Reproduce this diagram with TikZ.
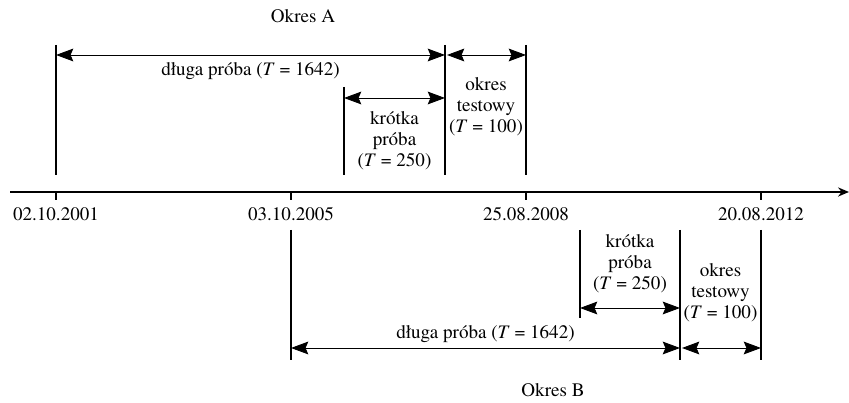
\documentclass[tikz,border=0pt]{standalone}
\usepackage{fontspec}
\setmainfont{texgyretermes}[
    Extension=.otf,
    UprightFont=*-regular,
    ItalicFont=*-italic,
    BoldFont=*-bold]
\usetikzlibrary{arrows.meta}

\begin{document}
\begin{tikzpicture}[
    x=0.55pt, y=0.55pt,
    every node/.style={font=\fontsize{10.5}{11.6}\selectfont, inner sep=0pt},
    axis/.style={line width=1pt, -{Stealth[length=6pt,width=5pt]}},
    tick/.style={line width=0.8pt},
    edge/.style={line width=0.8pt},
    span/.style={line width=0.5pt,
        {Stealth[length=9.5pt,width=7pt,inset=1.5pt]}-{Stealth[length=9.5pt,width=7pt,inset=1.5pt]}},
    lbl/.style={align=center}
]
\useasboundingbox (0,0) rectangle (849,403);

% time axis
\coordinate (axL) at (10,211);
\coordinate (axR) at (849,211);
\draw[axis] (axL) -- (axR);
\foreach \x/\d [count=\i] in {56/02.10.2001, 291/03.10.2005, 526/25.08.2008, 761/20.08.2012} {
    \coordinate (t\i) at (\x,211);
    \coordinate (tb\i) at (\x,203);
    \draw[tick] (t\i) -- (tb\i);
    \node (d\i) at (\x,189) {\d};
}

% Okres A
\node (okresA) at (303,387) {Okres A};
\coordinate (a1t) at (56,358);   \coordinate (a1b) at (56,228);
\coordinate (a2t) at (344,316);  \coordinate (a2b) at (344,228);
\coordinate (a3t) at (445,358);  \coordinate (a3b) at (445,228);
\coordinate (a4t) at (526,358);  \coordinate (a4b) at (526,228);
\draw[edge] (a1t) -- (a1b);
\draw[edge] (a2t) -- (a2b);
\draw[edge] (a3t) -- (a3b);
\draw[edge] (a4t) -- (a4b);

\coordinate (aLongL) at (56,348);   \coordinate (aLongR) at (445,348);
\coordinate (aShortL) at (344,305); \coordinate (aShortR) at (445,305);
\coordinate (aTestL) at (447,348);  \coordinate (aTestR) at (526,348);
\draw[span] (aLongL) -- (aLongR);
\draw[span] (aShortL) -- (aShortR);
\draw[span] (aTestL) -- (aTestR);

\node (aLong) at (250.5,332) {długa próba (\textit{T}~=~1642)};
\node[lbl] (aShort) at (394.5,262) {krótka\\próba\\(\textit{T}~=~250)};
\node[lbl] (aTest) at (486,296) {okres\\testowy\\(\textit{T}~=~100)};

% Okres B
\node (okresB) at (553,13) {Okres B};
\coordinate (b1t) at (291,173);  \coordinate (b1b) at (291,43);
\coordinate (b2t) at (580,173);  \coordinate (b2b) at (580,85);
\coordinate (b3t) at (680,173);  \coordinate (b3b) at (680,43);
\coordinate (b4t) at (761,173);  \coordinate (b4b) at (761,43);
\draw[edge] (b1t) -- (b1b);
\draw[edge] (b2t) -- (b2b);
\draw[edge] (b3t) -- (b3b);
\draw[edge] (b4t) -- (b4b);

\coordinate (bLongL) at (291,55);  \coordinate (bLongR) at (680,55);
\coordinate (bShortL) at (580,95); \coordinate (bShortR) at (680,95);
\coordinate (bTestL) at (682,55);  \coordinate (bTestR) at (761,55);
\draw[span] (bLongL) -- (bLongR);
\draw[span] (bShortL) -- (bShortR);
\draw[span] (bTestL) -- (bTestR);

\node (bLong) at (485.5,69) {długa próba (\textit{T}~=~1642)};
\node[lbl] (bShort) at (630,139) {krótka\\próba\\(\textit{T}~=~250)};
\node[lbl] (bTest) at (720.5,110) {okres\\testowy\\(\textit{T}~=~100)};

\end{tikzpicture}
\end{document}
